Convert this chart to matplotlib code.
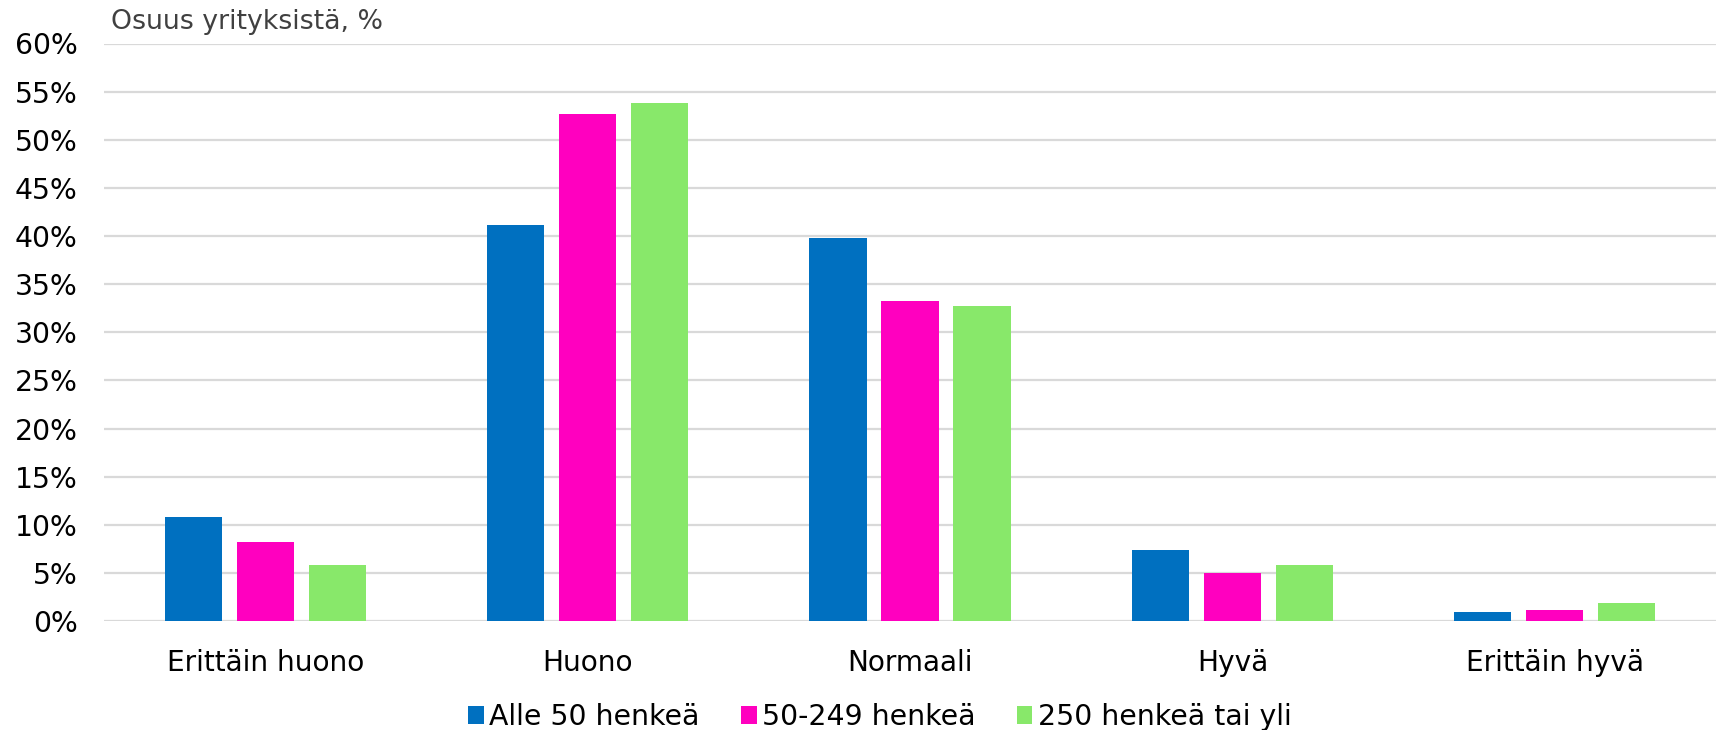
import matplotlib
matplotlib.use("Agg")
import matplotlib.pyplot as plt
import numpy as np

categories = ["Erittäin huono", "Huono", "Normaali", "Hyvä", "Erittäin hyvä"]
series_names = ["Alle 50 henkeä", "50-249 henkeä", "250 henkeä tai yli"]
alle50 = [10.8, 41.1, 39.8, 7.4, 0.9]
mid = [8.2, 52.7, 33.2, 5.0, 1.1]
over250 = [5.8, 53.8, 32.7, 5.8, 1.9]
colors = ["#0070C0", "#FF00BF", "#88E86A"]
yticks = list(range(0, 61, 5))
ylabel_text = "Osuus yrityksistä, %"

plt.rcParams['font.family'] = ['DejaVu Sans']
fig = plt.figure(figsize=(17.18, 7.30), dpi=100)
ax = fig.add_axes([104/1718, 109/730, 1612/1718, 577.5/730])

x = np.arange(len(categories))
w = 0.177
off = 0.2233
for i, (vals, name, c) in enumerate(zip([alle50, mid, over250], series_names, colors)):
    ax.bar(x + (i - 1) * off, vals, width=w, color=c, label=name, zorder=3)

ax.set_xlim(-0.5, len(categories) - 0.5)
ax.set_ylim(0, 60)
ax.set_yticks(yticks)
ax.set_yticklabels([f"{t}%" for t in yticks], fontsize=20.3, color="black")
ax.set_xticks(x)
ax.set_xticklabels(categories, fontsize=20.2, color="black")
ax.tick_params(axis='y', length=0, pad=19)
ax.tick_params(axis='x', length=0, pad=20)
ax.grid(axis='y', color="#D9D9D9", linewidth=1.6, zorder=0)
for s in ax.spines.values():
    s.set_visible(False)

fig.text(111/1718, 1 - 22/730, ylabel_text, fontsize=19.3, color="#404040",
         ha="left", va="center")

leg = fig.legend(loc="center", bbox_to_anchor=(880/1718, 1 - 717/730), ncol=3,
                 frameon=False, fontsize=20.4, handlelength=0.55, handleheight=0.55,
                 handletextpad=0.2, columnspacing=1.45, borderpad=0.1)

fig.savefig("out.png", dpi=100)
